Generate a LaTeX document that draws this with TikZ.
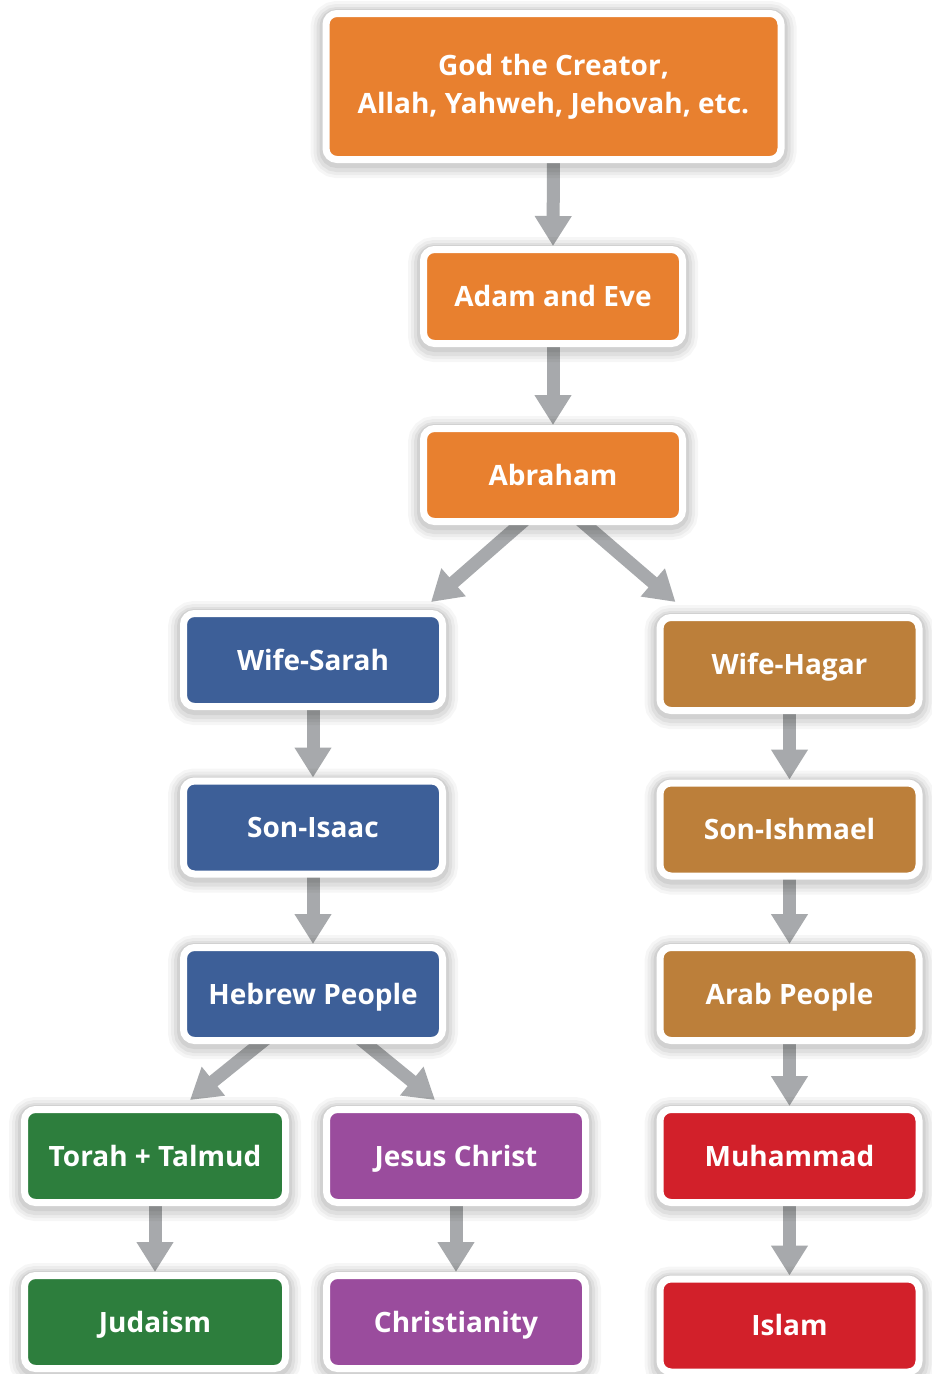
\documentclass[tikz,border=0pt]{standalone}
\usepackage{fontspec}
\setmainfont{Open Sans}
\usetikzlibrary{arrows.meta,calc}
\pgfdeclarelayer{background}
\pgfdeclarelayer{bottom}
\pgfsetlayers{bottom,background,main}
\definecolor{corange}{HTML}{E8802F}
\definecolor{cblue}{HTML}{3D5F98}
\definecolor{cbrown}{HTML}{BC7F3A}
\definecolor{cgreen}{HTML}{2D7E3D}
\definecolor{cpurple}{HTML}{9A4C9D}
\definecolor{cred}{HTML}{D2202A}
\definecolor{carrow}{HTML}{A7A9AC}
\tikzset{
  box/.style={draw=white, line width=7pt, rounded corners=11pt,
    minimum width=259pt, minimum height=93pt, inner sep=0pt,
    text=white, font=\fontsize{28}{38}\selectfont\bfseries, align=center,
    preaction={draw=black, draw opacity=0.035, line width=31pt, transform canvas={yshift=-3pt}},
    preaction={draw=black, draw opacity=0.04, line width=25pt, transform canvas={yshift=-3pt}},
    preaction={draw=black, draw opacity=0.05, line width=19pt, transform canvas={yshift=-3pt}},
    preaction={draw=black, draw opacity=0.06, line width=13pt, transform canvas={yshift=-2pt}}},
  oneline/.style={box, text height=20pt, text depth=0pt},
  arr/.style={draw=carrow, line width=13pt, -{Triangle[width=35pt,length=30pt]}}
}
\begin{document}
\begin{tikzpicture}[x=1pt,y=-1pt]
\begin{pgfonlayer}{bottom}
\fill[white] (0,0) rectangle (932,1374);
\end{pgfonlayer}
\useasboundingbox (0,0) rectangle (932,1374);
\node[box, fill=corange, minimum width=455pt, minimum height=146pt] (god) at (553.5,86.5) {God the Creator,\\Allah, Yahweh, Jehovah, etc.};
\node[oneline, fill=corange, minimum height=94pt] (adam) at (553,296.5) {Adam and Eve};
\node[oneline, fill=corange] (abraham) at (553,475) {Abraham};
\node[oneline, fill=cblue] (sarah) at (313,660) {Wife-Sarah};
\node[oneline, fill=cbrown] (hagar) at (789.5,664) {Wife-Hagar};
\node[oneline, fill=cblue] (isaac) at (313,827.5) {Son-Isaac};
\node[oneline, fill=cbrown] (ishmael) at (789.5,829.5) {Son-Ishmael};
\node[oneline, fill=cblue] (hebrew) at (313,994) {Hebrew People};
\node[oneline, fill=cbrown] (arab) at (789.5,994) {Arab People};
\node[oneline, fill=cgreen, minimum width=261pt] (torah) at (155,1156) {Torah + Talmud};
\node[oneline, fill=cpurple, minimum width=259pt] (jesus) at (456,1156) {Jesus Christ};
\node[oneline, fill=cred] (muhammad) at (789.5,1156) {Muhammad};
\node[oneline, fill=cgreen, minimum width=261pt] (judaism) at (155,1322) {Judaism};
\node[oneline, fill=cpurple, minimum width=259pt] (christianity) at (456,1322) {Christianity};
\node[oneline, fill=cred] (islam) at (789.5,1325.5) {Islam};
\begin{pgfonlayer}{background}
\draw[arr] ($(god.south)+(0,-6)$) -- (adam.north);
\draw[arr] ($(adam.south)+(0,-6)$) -- (abraham.north);
\draw[arr] ($(abraham.south)+(-27,-6)$) -- ($(sarah.north east)+(-15,-8)$);
\draw[arr] ($(abraham.south)+(26,-6)$) -- ($(hagar.north west)+(19,-12)$);
\draw[arr] ($(sarah.south)+(0,-6)$) -- (isaac.north);
\draw[arr] ($(isaac.south)+(0,-6)$) -- (hebrew.north);
\draw[arr] ($(hagar.south)+(0,-6)$) -- (ishmael.north);
\draw[arr] ($(ishmael.south)+(0,-6)$) -- (arab.north);
\draw[arr] ($(arab.south)+(0,-6)$) -- (muhammad.north);
\draw[arr] ($(hebrew.south)+(-46,-6)$) -- ($(torah.north)+(35,-6)$);
\draw[arr] ($(hebrew.south)+(46,-6)$) -- ($(jesus.north)+(-21,-6)$);
\draw[arr] ($(torah.south)+(0,-6)$) -- (judaism.north);
\draw[arr] ($(jesus.south)+(0,-6)$) -- (christianity.north);
\draw[arr] ($(muhammad.south)+(0,-6)$) -- (islam.north);
\end{pgfonlayer}
\end{tikzpicture}
\end{document}
